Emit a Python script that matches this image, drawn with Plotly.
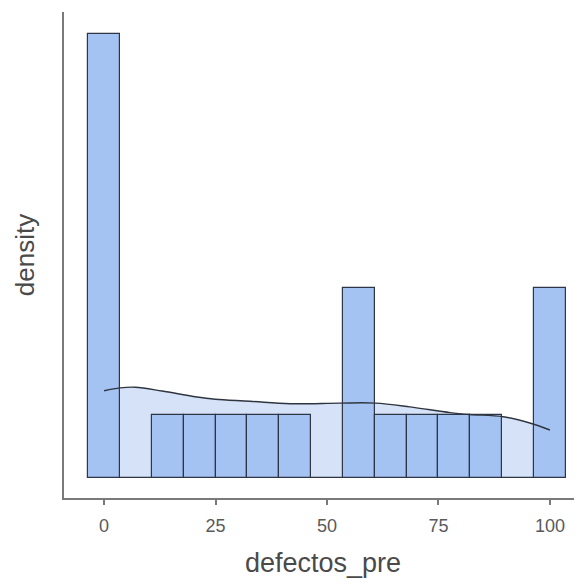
import plotly.graph_objects as go

# Histogram bins (centres) and counts
bin_centers = [0.0, 7.14, 14.29, 21.43, 28.57, 35.71, 42.86, 50.0,
               57.14, 64.29, 71.43, 78.57, 85.71, 92.86, 100.0]
bin_counts = [7, 0, 1, 1, 1, 1, 1, 0, 3, 1, 1, 1, 1, 0, 3]
bin_width = 7.14

# Density curve (in bar-height units)
curve_x = [0, 3.6, 7, 13, 20.4, 24.9, 32.7, 41.7, 52.9, 60.8, 68.6, 77.6, 82, 89.5, 95.5, 100]
curve_y = [1.375, 1.42, 1.43, 1.37, 1.28, 1.24, 1.21, 1.17, 1.18, 1.18, 1.12, 1.03, 1.0, 0.965, 0.866, 0.756]

x_ticks = [0, 25, 50, 75, 100]
x_title = "defectos_pre"
y_title = "density"

x_range = [-9.0, 107.2]
y_range = [-0.315, 7.34]

fig = go.Figure()
# density fill (bottom layer)
fig.add_trace(go.Scatter(x=curve_x, y=curve_y, mode="lines", line=dict(width=0, shape="spline"),
                         fill="tozeroy", fillcolor="#d5e2f7", hoverinfo="skip", showlegend=False,
                         xaxis="x", yaxis="y"))
# histogram bars (overlay 1)
fig.add_trace(go.Bar(x=bin_centers, y=bin_counts, width=bin_width,
                     marker=dict(color="#a4c2f2", line=dict(color="#2e3646", width=1.2)),
                     showlegend=False, xaxis="x2", yaxis="y2"))
# density line (overlay 2)
fig.add_trace(go.Scatter(x=curve_x, y=curve_y, mode="lines",
                         line=dict(color="#2f3540", width=1.4, shape="spline"),
                         showlegend=False, xaxis="x3", yaxis="y3"))

axis_col = "#7a7a7a"
hidden = dict(visible=False, showgrid=False, zeroline=False, automargin=False)
fig.update_layout(
    width=582, height=585,
    margin=dict(l=56, r=8, t=4, b=95),
    plot_bgcolor="white", paper_bgcolor="white",
    bargap=0,
    font=dict(family="Liberation Sans, Arial, sans-serif", color="#555555"),
    xaxis=dict(range=x_range, tickvals=x_ticks, showgrid=False, zeroline=False, automargin=False,
               showline=True, linecolor=axis_col, linewidth=2,
               ticks="outside", ticklen=5, tickwidth=2, tickcolor=axis_col,
               ticklabelstandoff=5,
               tickfont=dict(size=18, color="#5a5a5a"),
               title=dict(text=x_title, font=dict(size=27, color="#4a4a4a"), standoff=19)),
    yaxis=dict(range=y_range, showticklabels=False, showgrid=False, zeroline=False, automargin=False,
               showline=True, linecolor=axis_col, linewidth=2, ticks="",
               title=dict(text=y_title, font=dict(size=26, color="#4a4a4a"), standoff=20)),
    xaxis2=dict(range=x_range, overlaying="x", **hidden),
    yaxis2=dict(range=y_range, overlaying="y", **hidden),
    xaxis3=dict(range=x_range, overlaying="x", **hidden),
    yaxis3=dict(range=y_range, overlaying="y", **hidden),
)

fig.write_html("out.html")
